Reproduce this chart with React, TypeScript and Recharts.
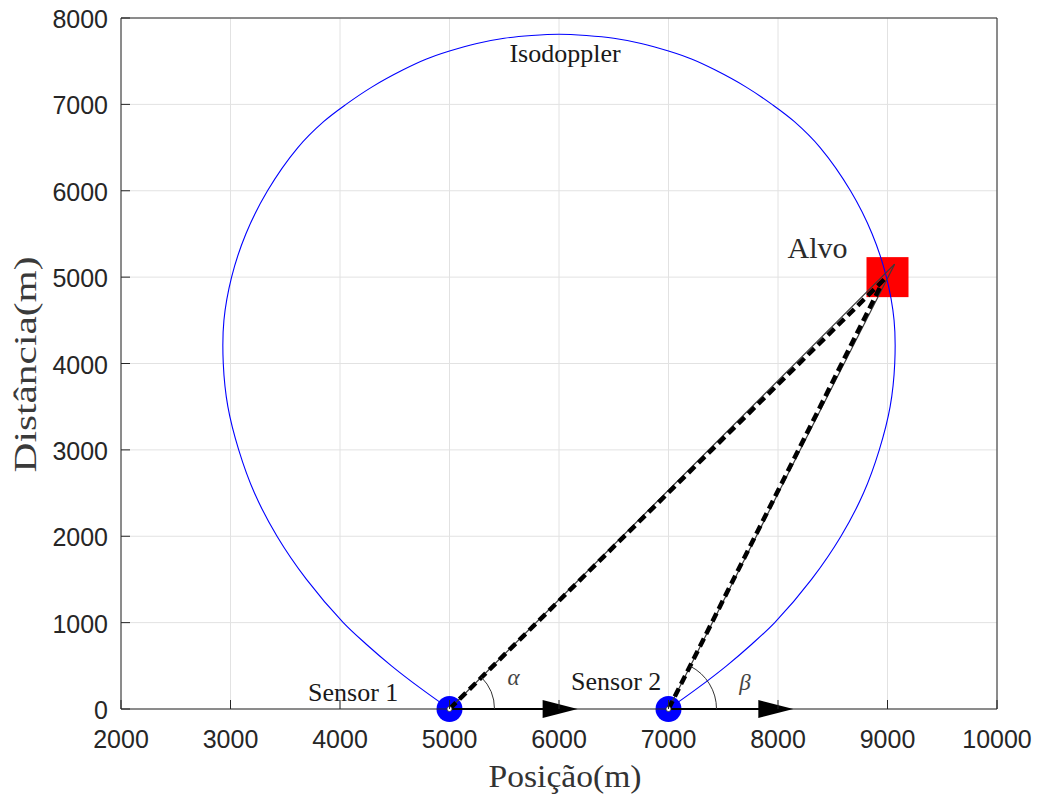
import React from 'react';
import { ComposedChart, Line, Scatter, XAxis, YAxis, CartesianGrid } from 'recharts';

// Isodoppler contour through the target (metres), traced from Sensor 1 round to Sensor 2
const isoX = [
  5000, 4725, 4470, 4240, 4030, 3694, 3425, 3219, 3075, 2976, 2934, 2940, 3010, 3140, 3338, 3615, 3850, 4055, 4290, 4577, 4790, 5000, 5250, 5500, 5750, 6000,
  6250, 6500, 6750, 7000, 7210, 7423, 7710, 7945, 8150, 8385, 8662, 8860, 8990, 9060, 9066, 9024, 8925, 8781, 8575, 8306, 7970, 7760, 7530, 7275, 7000,
];
const isoY = [
  0, 250, 500, 750, 1000, 1500, 2000, 2500, 3000, 3500, 4000, 4500, 5000, 5500, 6000, 6500, 6800, 7000, 7200, 7400, 7525, 7617, 7705, 7765, 7797, 7812,
  7797, 7765, 7705, 7617, 7525, 7400, 7200, 7000, 6800, 6500, 6000, 5500, 5000, 4500, 4000, 3500, 3000, 2500, 2000, 1500, 1000, 750, 500, 250, 0,
];

// Sensors, target and bearing lines
const sensorX = [5000, 7000];
const sensorY = [0, 0];
const sensorNames = ['Sensor 1', 'Sensor 2'];
const targetX = 9000;
const targetY = 5000;
const beamTipX = 9065;
const beamTipY = 5150;
const dashEndX = [8975, 8935];
const dashEndY = [4980, 4890];
const velocityTipX = [6170, 8140];

// Axes
const xTicks = [2000, 3000, 4000, 5000, 6000, 7000, 8000, 9000, 10000];
const yTicks = [0, 1000, 2000, 3000, 4000, 5000, 6000, 7000, 8000];
const X_MIN = 2000, X_MAX = 10000, Y_MIN = 0, Y_MAX = 8000;

const W = 1040, H = 797;
const MARGIN = { top: 8, right: 33, bottom: 28, left: 21 };
const Y_AXIS_W = 100, RIGHT_W = 10, X_AXIS_H = 60, TOP_H = 10;
const PLOT_W = W - MARGIN.left - MARGIN.right - Y_AXIS_W - RIGHT_W;
const PLOT_H = H - MARGIN.top - MARGIN.bottom - X_AXIS_H - TOP_H;
const KX = PLOT_W / (X_MAX - X_MIN);
const KY = PLOT_H / (Y_MAX - Y_MIN);

const AXIS = '#262626';
const SANS = '"Liberation Sans", Arial, Helvetica, sans-serif';
const SERIF = '"Liberation Serif", "Times New Roman", serif';
const TICK_LEN = 9;

// Centripetal Catmull-Rom curve factory (smooth interpolation through every point)
const centripetal = (context: any) => {
  let pts: number[][] = [];
  return {
    areaStart() {},
    areaEnd() {},
    lineStart() {
      pts = [];
    },
    point(x: number, y: number) {
      pts.push([+x, +y]);
    },
    lineEnd() {
      if (!pts.length) return;
      context.moveTo(pts[0][0], pts[0][1]);
      const dist = (a: number[], b: number[]) => Math.sqrt(Math.hypot(a[0] - b[0], a[1] - b[1]));
      for (let i = 0; i < pts.length - 1; i++) {
        const p0 = pts[i - 1] || pts[i];
        const p1 = pts[i];
        const p2 = pts[i + 1];
        const p3 = pts[i + 2] || p2;
        const d1 = dist(p0, p1);
        const d2 = dist(p1, p2);
        const d3 = dist(p2, p3);
        let c1 = p1;
        let c2 = p2;
        if (d1 > 1e-9) {
          const a = 2 * d1 * d1 + 3 * d1 * d2 + d2 * d2;
          const n = 3 * d1 * (d1 + d2);
          c1 = [0, 1].map((k) => (p1[k] * a - p0[k] * d2 * d2 + p2[k] * d1 * d1) / n);
        }
        if (d3 > 1e-9) {
          const b = 2 * d3 * d3 + 3 * d3 * d2 + d2 * d2;
          const m = 3 * d3 * (d3 + d2);
          c2 = [0, 1].map((k) => (p2[k] * b + p1[k] * d3 * d3 - p3[k] * d2 * d2) / m);
        }
        context.bezierCurveTo(c1[0], c1[1], c2[0], c2[1], p2[0], p2[1]);
      }
    },
  };
};

const BottomTick = (p: any) => (
  <g>
    <line x1={p.x} y1={p.y} x2={p.x} y2={p.y - TICK_LEN} stroke={AXIS} strokeWidth={1} />
    <text x={p.x} y={p.y + 39} textAnchor="middle" fontFamily={SANS} fontSize={25} fill={AXIS}>
      {p.payload.value}
    </text>
  </g>
);
const LeftTick = (p: any) => (
  <g>
    <line x1={p.x} y1={p.y} x2={p.x + TICK_LEN} y2={p.y} stroke={AXIS} strokeWidth={1} />
    <text x={p.x - 13} y={p.y + 10} textAnchor="end" fontFamily={SANS} fontSize={25} fill={AXIS}>
      {p.payload.value}
    </text>
  </g>
);
const TopTick = (p: any) => (
  <line x1={p.x} y1={p.y} x2={p.x} y2={p.y + TICK_LEN} stroke={AXIS} strokeWidth={1} />
);
const RightTick = (p: any) => (
  <line x1={p.x} y1={p.y} x2={p.x - TICK_LEN} y2={p.y} stroke={AXIS} strokeWidth={1} />
);

const pt = (x: number, y: number) => [{ x, y }];
const seg = (x1: number, y1: number, x2: number, y2: number) => [{ x: x1, y: y1 }, { x: x2, y: y2 }];

const isoData = isoX.map((x, i) => ({ x, y: isoY[i] }));

const textShape = (text: string, size: number, opts: any = {}) => (p: any) => (
  <text
    x={p.cx}
    y={p.cy}
    textAnchor="middle"
    fontFamily={SERIF}
    fontSize={size}
    fontStyle={opts.italic ? 'italic' : 'normal'}
    fill={opts.fill || '#1a1a1a'}
  >
    {text}
  </text>
);

const arcShape = (r: number, dx: number, dy: number) => (p: any) => {
  const th = Math.atan2(dy * KY, dx * KX);
  const x1 = p.cx + r;
  const y1 = p.cy;
  const x2 = p.cx + r * Math.cos(th);
  const y2 = p.cy - r * Math.sin(th);
  return <path d={`M${x1},${y1} A${r},${r} 0 0 0 ${x2},${y2}`} fill="none" stroke="#333" strokeWidth={1} />;
};

const headShape = (p: any) => (
  <polygon points={`${p.cx},${p.cy} ${p.cx - 35},${p.cy - 9} ${p.cx - 35},${p.cy + 9}`} fill="#000" />
);
const shaftShape = (len: number) => (p: any) => (
  <line x1={p.cx} y1={p.cy} x2={p.cx + len} y2={p.cy} stroke="#000" strokeWidth={2.2} />
);
const sensorShape = (p: any) => <circle cx={p.cx} cy={p.cy} r={13} fill="#0000ff" />;
const hubShape = (p: any) => <circle cx={p.cx} cy={p.cy} r={2.5} fill="#fff" stroke="#333" strokeWidth={0.8} />;
const targetShape = (p: any) => <rect x={p.cx - 21} y={p.cy - 20} width={42} height={40} fill="#ff0000" />;

export default function App() {
  const plotLeft = MARGIN.left + Y_AXIS_W;
  const plotTop = MARGIN.top + TOP_H;
  return (
    <div style={{ position: 'absolute', left: 0, top: 0, width: W, height: H, background: '#fff' }}>
      <ComposedChart width={W} height={H} margin={MARGIN}>
        <CartesianGrid stroke="#e2e2e2" strokeWidth={1} />
        <XAxis
          xAxisId={0}
          dataKey="x"
          type="number"
          domain={[X_MIN, X_MAX]}
          ticks={xTicks}
          height={X_AXIS_H}
          tickSize={0}
          tickMargin={0}
          tickLine={false}
          axisLine={{ stroke: AXIS, strokeWidth: 1 }}
          tick={<BottomTick />}
          interval={0}
        />
        <XAxis
          xAxisId="top"
          orientation="top"
          type="number"
          domain={[X_MIN, X_MAX]}
          ticks={xTicks}
          height={TOP_H}
          tickSize={0}
          tickMargin={0}
          tickLine={false}
          axisLine={{ stroke: AXIS, strokeWidth: 1 }}
          tick={<TopTick />}
          interval={0}
        />
        <YAxis
          yAxisId={0}
          dataKey="y"
          type="number"
          domain={[Y_MIN, Y_MAX]}
          ticks={yTicks}
          width={Y_AXIS_W}
          tickSize={0}
          tickMargin={0}
          tickLine={false}
          axisLine={{ stroke: AXIS, strokeWidth: 1 }}
          tick={<LeftTick />}
          interval={0}
        />
        <YAxis
          yAxisId="right"
          orientation="right"
          type="number"
          domain={[Y_MIN, Y_MAX]}
          ticks={yTicks}
          width={RIGHT_W}
          tickSize={0}
          tickMargin={0}
          tickLine={false}
          axisLine={{ stroke: AXIS, strokeWidth: 1 }}
          tick={<RightTick />}
          interval={0}
        />

        {/* target (kept beneath the curves) */}
        <Scatter data={pt(targetX, targetY)} shape={targetShape} isAnimationActive={false} zIndex={350} />

        {/* sensors (beneath the bearing lines) */}
        <Scatter data={sensorX.map((x, i) => ({ x, y: sensorY[i] }))} shape={sensorShape} isAnimationActive={false} zIndex={360} />

        {/* isodoppler */}
        <Line data={isoData} dataKey="y" type={centripetal as any} stroke="#0000ff" strokeWidth={1.1} dot={false} isAnimationActive={false} />

        {/* velocity vectors */}
        {sensorX.map((sx, i) => (
          <Scatter
            key={'v' + i}
            data={pt(sx, sensorY[i])}
            shape={shaftShape((velocityTipX[i] - sx) * KX - 30)}
            isAnimationActive={false}
          />
        ))}
        {sensorX.map((sx, i) => (
          <Scatter key={'h' + i} data={pt(velocityTipX[i], sensorY[i])} shape={headShape} isAnimationActive={false} />
        ))}

        {/* bearing lines */}
        {sensorX.map((sx, i) => (
          <Line key={'b' + i} data={seg(sx, sensorY[i], beamTipX, beamTipY)} dataKey="y" stroke="#3a3a3a" strokeWidth={1.2} dot={false} isAnimationActive={false} />
        ))}
        {sensorX.map((sx, i) => (
          <Line key={'d' + i} data={seg(sx, sensorY[i], dashEndX[i], dashEndY[i])} dataKey="y" stroke="#000" strokeWidth={4.5} strokeDasharray="9 5" dot={false} isAnimationActive={false} />
        ))}
        <Scatter data={sensorX.map((x, i) => ({ x, y: sensorY[i] }))} shape={hubShape} isAnimationActive={false} />

        {/* bearing angles */}
        <Scatter data={pt(sensorX[0], sensorY[0])} shape={arcShape(45, beamTipX - sensorX[0], beamTipY - sensorY[0])} isAnimationActive={false} />
        <Scatter data={pt(sensorX[1], sensorY[1])} shape={arcShape(48, beamTipX - sensorX[1], beamTipY - sensorY[1])} isAnimationActive={false} />

        {/* annotations */}
        <Scatter data={pt(6055, 7490)} shape={textShape('Isodoppler', 26)} isAnimationActive={false} />
        <Scatter data={pt(8361, 5221)} shape={textShape('Alvo', 30, { fill: '#2b2b2b' })} isAnimationActive={false} />
        <Scatter data={pt(4121, 93)} shape={textShape(sensorNames[0], 26)} isAnimationActive={false} />
        <Scatter data={pt(6522, 220)} shape={textShape(sensorNames[1], 26)} isAnimationActive={false} />
        <Scatter data={pt(5584, 278)} shape={textShape('α', 23, { italic: true, fill: '#444' })} isAnimationActive={false} />
        <Scatter data={pt(7699, 220)} shape={textShape('β', 23, { italic: true, fill: '#444' })} isAnimationActive={false} />
      </ComposedChart>

      {/* axis titles */}
      <svg width={W} height={H} style={{ position: 'absolute', left: 0, top: 0, pointerEvents: 'none' }}>
        <text
          x={plotLeft + PLOT_W / 2 + 6}
          y={787}
          textAnchor="middle"
          fontFamily={SERIF}
          fontSize={31}
          fill="#333"
          textLength={153}
          lengthAdjust="spacingAndGlyphs"
        >
          Posição(m)
        </text>
        <text
          transform={`translate(36, ${plotTop + PLOT_H / 2 + 1}) rotate(-90)`}
          textAnchor="middle"
          fontFamily={SERIF}
          fontSize={31}
          fill="#3a3a3a"
          textLength={216}
          lengthAdjust="spacingAndGlyphs"
        >
          Distância(m)
        </text>
      </svg>
    </div>
  );
}
